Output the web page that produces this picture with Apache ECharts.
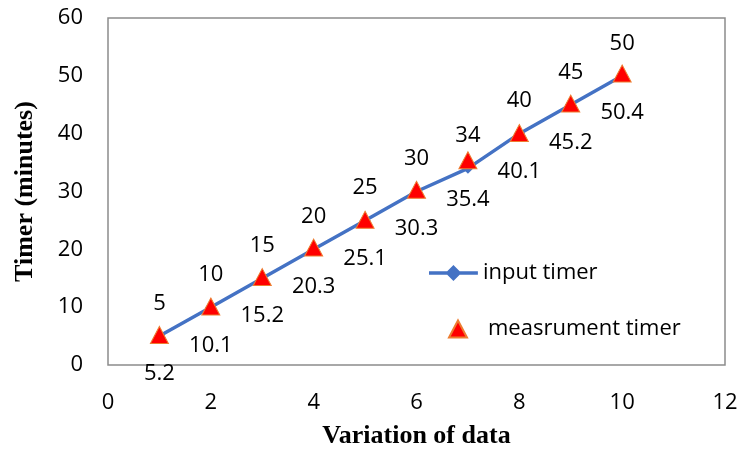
<!DOCTYPE html>
<html>
<head>
<meta charset="utf-8">
<script src="https://cdn.jsdelivr.net/npm/echarts@6/dist/echarts.min.js"></script>
<style>
  html, body { margin: 0; padding: 0; background: #fff; }
  #chart { width: 741px; height: 454px; }
</style>
</head>
<body>
<div id="chart"></div>
<script>
// data
const xValues = [1, 2, 3, 4, 5, 6, 7, 8, 9, 10]
const inputTimer = [5, 10, 15, 20, 25, 30, 34, 40, 45, 50]
const measurementTimer = [5.2, 10.1, 15.2, 20.3, 25.1, 30.3, 35.4, 40.1, 45.2, 50.4]

const labelFont = { fontFamily: 'Open Sans', fontSize: 22, color: '#000' }
const titleFont = { fontFamily: 'Liberation Serif', fontWeight: 'bold', fontSize: 26, color: '#000' }

// legend icon: thick line with a diamond in the middle
const lineDiamondIcon = 'path://M0,7L20.5,7L27.5,0L34.5,7L55,7L55,11L34.5,11L27.5,18L20.5,11L0,11Z'

const chart = echarts.init(document.getElementById('chart'))

const option = {
  animation: false,
  grid: {
    left: 108, top: 18, right: 16, bottom: 87,
    show: true, borderColor: '#8c8c8c', borderWidth: 1.5
  },
  legend: [
    {
      data: [{ name: 'input timer', icon: lineDiamondIcon, itemStyle: { color: '#4472C4' } }],
      left: 424, top: 257,
      itemWidth: 55, itemHeight: 16,
      textStyle: Object.assign({ padding: [0, 0, 0, -3] }, labelFont)
    },
    {
      data: [{ name: 'measrument timer', icon: 'triangle' }],
      left: 443, top: 313,
      itemWidth: 18, itemHeight: 17,
      textStyle: Object.assign({ padding: [0, 0, 0, 16] }, labelFont)
    }
  ],
  xAxis: {
    type: 'value',
    min: 0, max: 12, interval: 2,
    name: 'Variation of data',
    nameLocation: 'middle',
    nameGap: 58,
    nameTextStyle: titleFont,
    axisLine: { show: false },
    axisTick: { show: false },
    splitLine: { show: false },
    axisLabel: Object.assign({ margin: 27 }, labelFont)
  },
  yAxis: {
    type: 'value',
    min: 0, max: 60, interval: 10,
    name: 'Timer (minutes)',
    nameLocation: 'middle',
    nameGap: 70,
    nameTextStyle: titleFont,
    axisLine: { show: false },
    axisTick: { show: false },
    splitLine: { show: false },
    axisLabel: Object.assign({ margin: 25 }, labelFont)
  },
  series: [
    {
      name: 'input timer',
      type: 'line',
      data: xValues.map((x, i) => [x, inputTimer[i]]),
      symbol: 'diamond',
      symbolSize: 11,
      lineStyle: { color: '#4472C4', width: 3.5 },
      itemStyle: { color: '#4472C4' },
      label: Object.assign({ show: true, position: 'top', distance: 16 }, labelFont),
      z: 2
    },
    {
      name: 'measrument timer',
      type: 'scatter',
      data: xValues.map((x, i) => [x, measurementTimer[i]]),
      symbol: 'triangle',
      symbolSize: [18, 17],
      itemStyle: { color: '#FF0000', borderColor: '#ED7D31', borderWidth: 1, opacity: 1 },
      label: Object.assign({ show: true, position: 'bottom', distance: 19 }, labelFont),
      z: 3
    }
  ]
}

chart.setOption(option)
window.addEventListener('resize', () => chart.resize())
</script>
</body>
</html>
